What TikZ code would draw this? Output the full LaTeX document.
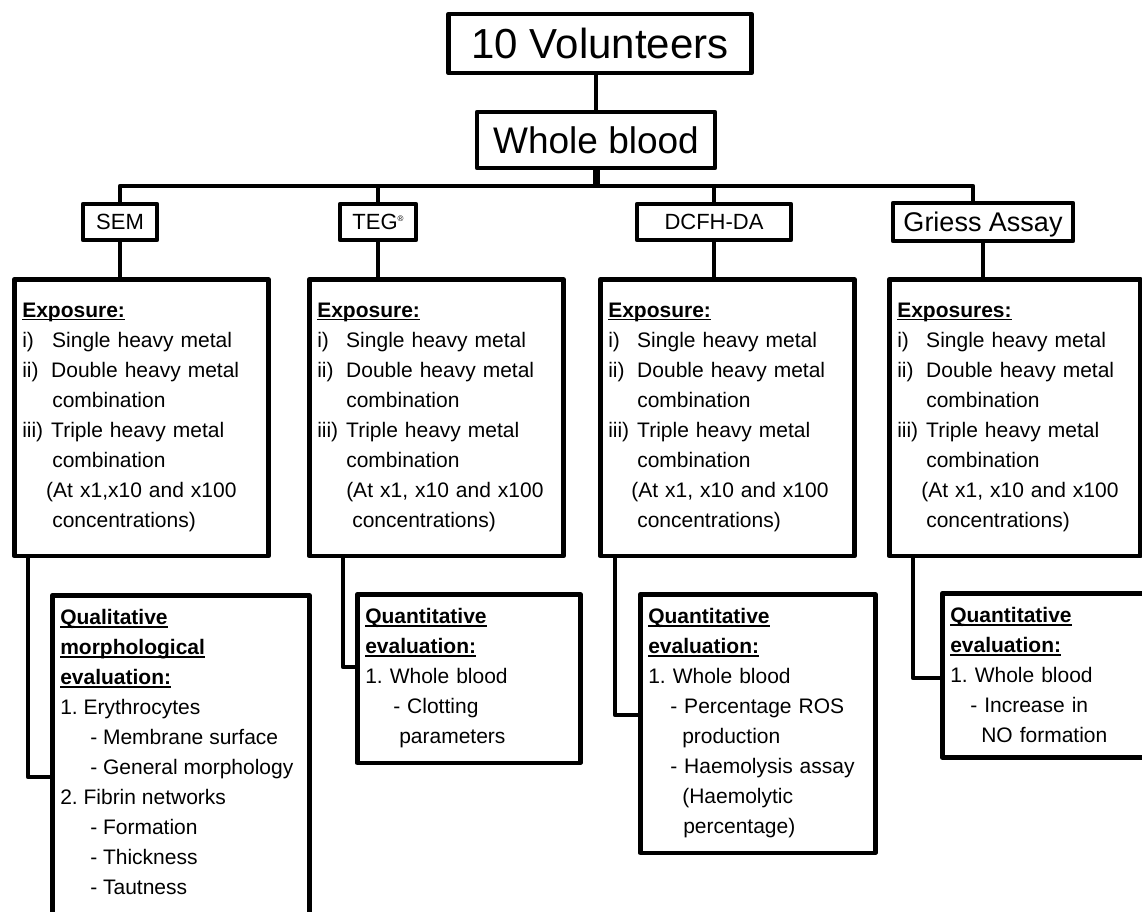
\documentclass[tikz,border=0pt]{standalone}
\usepackage{fontspec}
\setmainfont{Liberation Sans}
\frenchspacing
\newsavebox\ulsave
\newcommand\ulbf[1]{\leavevmode\sbox\ulsave{\textbf{#1}}\rlap{\usebox\ulsave}\rule[-2.6pt]{\wd\ulsave}{1.4pt}}
\begin{document}
\begin{tikzpicture}[x=1pt,y=-1pt,
  box/.style={draw, line width=4.5pt, line join=round, inner sep=0pt},
  expbox/.style={box, anchor=north west, align=left, font=\fontsize{21}{30}\selectfont,
    inner xsep=8pt, inner ysep=24pt, text width=238pt},
  evalbox/.style={box, anchor=north west, align=left, font=\fontsize{21}{30}\selectfont,
    inner xsep=8pt, inner ysep=14.5pt},
  link/.style={line width=4.5pt, line join=round}]
\useasboundingbox (0,0) rectangle (1142,911);
\clip (0,0) rectangle (1142,911);
\node[box, minimum width=303pt, minimum height=59pt, font=\fontsize{42}{42}\selectfont] (vol) at (600,43.5){10 Volunteers};
\node[box, minimum width=238pt, minimum height=56pt, font=\fontsize{37}{37}\selectfont] (wb) at (596,140){Whole blood};
\node[box, minimum width=74pt, minimum height=36pt, font=\fontsize{22}{22}\selectfont] (sem) at (120,222){SEM};
\node[box, minimum width=76pt, minimum height=36pt, font=\fontsize{22}{22}\selectfont] (teg) at (378,222){TEG\raisebox{8pt}{\fontsize{8}{8}\selectfont\textregistered}};
\node[box, minimum width=154pt, minimum height=36pt, font=\fontsize{22}{22}\selectfont] (dcfh) at (714,222){DCFH-DA};
\node[box, minimum width=180pt, minimum height=38pt, text depth=0pt, font=\fontsize{27}{27}\selectfont] (gri) at (983,222){Griess Assay};
\coordinate (bus) at (593,186);
\node[expbox] (semexp) at (12,277){\ulbf{Exposure:}\\
  \makebox[30pt][l]{i)}Single heavy metal\\
  \makebox[29pt][l]{ii)}Double heavy metal\\
  \hspace*{30pt}combination\\
  \makebox[29pt][l]{iii)}Triple heavy metal\\
  \hspace*{30pt}combination\\
  \hspace*{24pt}(At x1,x10 and x100\\
  \hspace*{30pt}concentrations)};
\node[expbox] (tegexp) at (307,277){\ulbf{Exposure:}\\
  \makebox[29pt][l]{i)}Single heavy metal\\
  \makebox[29pt][l]{ii)}Double heavy metal\\
  \hspace*{29pt}combination\\
  \makebox[29pt][l]{iii)}Triple heavy metal\\
  \hspace*{29pt}combination\\
  \hspace*{29pt}(At x1, x10 and x100\\
  \hspace*{35pt}concentrations)};
\node[expbox] (dcfhexp) at (598,277){\ulbf{Exposure:}\\
  \makebox[29pt][l]{i)}Single heavy metal\\
  \makebox[29pt][l]{ii)}Double heavy metal\\
  \hspace*{29pt}combination\\
  \makebox[29pt][l]{iii)}Triple heavy metal\\
  \hspace*{29pt}combination\\
  \hspace*{23pt}(At x1, x10 and x100\\
  \hspace*{29pt}concentrations)};
\node[expbox, text width=235pt] (griexp) at (887,277){\ulbf{Exposures:}\\
  \makebox[29pt][l]{i)}Single heavy metal\\
  \makebox[29pt][l]{ii)}Double heavy metal\\
  \hspace*{29pt}combination\\
  \makebox[29pt][l]{iii)}Triple heavy metal\\
  \hspace*{29pt}combination\\
  \hspace*{24pt}(At x1, x10 and x100\\
  \hspace*{29pt}concentrations)};
\node[box, anchor=north west, font=\fontsize{21}{30}\selectfont, inner xsep=8pt, inner ysep=14.5pt] (semeval) at (50,593){\parbox[t][340pt][t]{241pt}{\ulbf{Qualitative}\\
  \ulbf{morphological}\\
  \ulbf{evaluation:}\\
  1. Erythrocytes\\
  \hspace*{30pt}- Membrane surface\\
  \hspace*{30pt}- General morphology\\
  2. Fibrin networks\\
  \hspace*{30pt}- Formation\\
  \hspace*{30pt}- Thickness\\
  \hspace*{30pt}- Tautness}};
\node[evalbox, text width=207pt] (tegeval) at (355,592){\ulbf{Quantitative}\\
  \ulbf{evaluation:}\\
  1. Whole blood\\
  \hspace*{28pt}- Clotting\\
  \hspace*{34pt}parameters};
\node[evalbox, text width=219pt] (dcfheval) at (638,592){\ulbf{Quantitative}\\
  \ulbf{evaluation:}\\
  1. Whole blood\\
  \hspace*{22pt}- Percentage ROS\\
  \hspace*{34pt}production\\
  \hspace*{22pt}- Haemolysis assay\\
  \hspace*{34pt}(Haemolytic\\
  \hspace*{35pt}percentage)};
\node[evalbox, text width=214pt] (grieval) at (940,591){\ulbf{Quantitative}\\
  \ulbf{evaluation:}\\
  1. Whole blood\\
  \hspace*{20pt}- Increase in\\
  \hspace*{31pt}NO formation};
\coordinate (semturn) at (28,777);
\coordinate (tegturn) at (343,667);
\coordinate (dcfhturn) at (615,715);
\coordinate (griturn) at (913,678);
\draw[link](wb.north) -- (wb.north |- vol.south);
\draw[link, line width=7pt](wb.south) -- (wb.south |- bus);
\draw[link](sem.north) -- (sem.north |- bus) -- ([xshift=-10pt]gri.north |- bus) -- ([xshift=-10pt]gri.north);
\draw[link](teg.north) -- (teg.north |- bus);
\draw[link](dcfh.north) -- (dcfh.north |- bus);
\draw[link](sem.south) -- (sem.south |- semexp.north);
\draw[link](teg.south) -- (teg.south |- tegexp.north);
\draw[link](dcfh.south) -- (dcfh.south |- dcfhexp.north);
\draw[link](gri.south) -- (gri.south |- griexp.north);
\draw[link](semturn |- semexp.south) |- (semeval.west |- semturn);
\draw[link](tegturn |- tegexp.south) |- (tegeval.west |- tegturn);
\draw[link](dcfhturn |- dcfhexp.south) |- (dcfheval.west |- dcfhturn);
\draw[link](griturn |- griexp.south) |- (grieval.west |- griturn);
\end{tikzpicture}
\end{document}
